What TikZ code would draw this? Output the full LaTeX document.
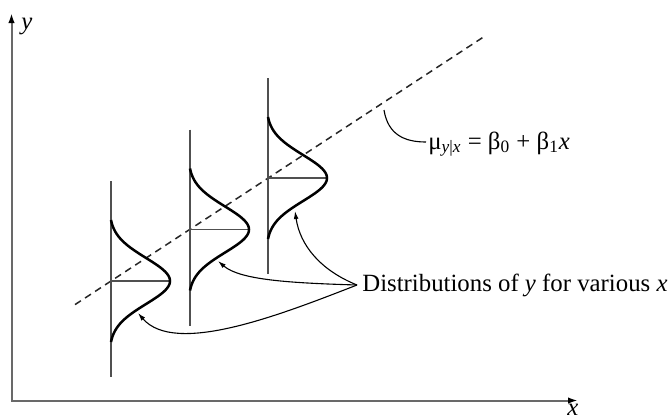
\documentclass[tikz,border=0pt]{standalone}
\usepackage{fontspec}
\setmainfont{Liberation Serif}
\usetikzlibrary{arrows.meta}
\definecolor{axisgray}{RGB}{105,105,105}
\definecolor{stemgray}{RGB}{80,80,80}
\begin{document}
\begin{tikzpicture}[x=0.5pt,y=-0.5pt,
  axis/.style={line width=1pt, draw=axisgray,
    {Latex[length=5pt,width=3.2pt,color=black]}-{Latex[length=5pt,width=3.2pt,color=black]}},
  stem/.style={line width=0.7pt, draw=stemgray},
  bell/.style={line width=1.25pt, draw=black},
  regline/.style={line width=0.75pt, draw=black!85, dash pattern=on 3.5pt off 2.5pt},
  lead/.style={line width=0.55pt, draw=black},
  leadarrow/.style={lead, -{Latex[length=4pt,width=2.4pt]}},
  lbl/.style={inner sep=0pt, font=\fontsize{12.4}{14}\selectfont},
]
\useasboundingbox (0,0) rectangle (671,419);

% axes
\coordinate (O) at (11.5,400.5);
\coordinate (Ytop) at (11.5,13);
\coordinate (Xend) at (578,400.5);
\draw[axis] (Ytop) -- (O) -- (Xend);
\node[lbl, anchor=base west] (ylab) at (21,29) {\textit{y}};
\node[lbl, anchor=base] (xlab) at (573,415) {\textit{x}};

% regression line
\coordinate (R1) at (75,304.6);
\coordinate (R2) at (485,36);
\draw[regline] (R1) -- (R2);

% distributions
\foreach \i/\xo/\ym in {1/111/281, 2/190/229.5, 3/268/178}{
  \coordinate (s\i t) at (\xo,\ym-100);
  \coordinate (s\i b) at (\xo,\ym+96);
  \draw[stem] (s\i t) -- (s\i b);
  \coordinate (m\i) at (\xo,\ym);
  \coordinate (p\i) at (\xo+59,\ym);
  \draw[stem] (m\i) -- (p\i);
  \draw[bell] plot[domain=-61:61, samples=81, smooth, variable=\t]
    ({\xo+59*(exp(-((\t)*(\t))/1058)-0.0297)/0.9703}, {\ym+(\t)});
}

% label for the mean line
\coordinate (L1) at (384,110);
\coordinate (L2) at (426,142);
\draw[lead] (L1) .. controls (388,135) and (405,142) .. (L2);
\node[lbl, anchor=base west] (mu) at (428,149)
  {μ\textsubscript{\textit{y}|\textit{x}} = β\textsubscript{0} + β\textsubscript{1}\textit{x}};

% label for the distributions
\coordinate (P) at (357,285);
\node[lbl, anchor=base west] (dist) at (362,291)
  {Distributions of \textit{y} for various \textit{x}};
\coordinate (tip1) at (138,313);
\coordinate (tip2) at (218,261);
\coordinate (tip3) at (295,211);
\draw[leadarrow] (P) .. controls (280,315) and (175,356) .. (tip1);
\draw[leadarrow] (P) .. controls (290,283) and (240,280) .. (tip2);
\draw[leadarrow] (P) .. controls (320,270) and (300,245) .. (tip3);
\end{tikzpicture}
\end{document}
